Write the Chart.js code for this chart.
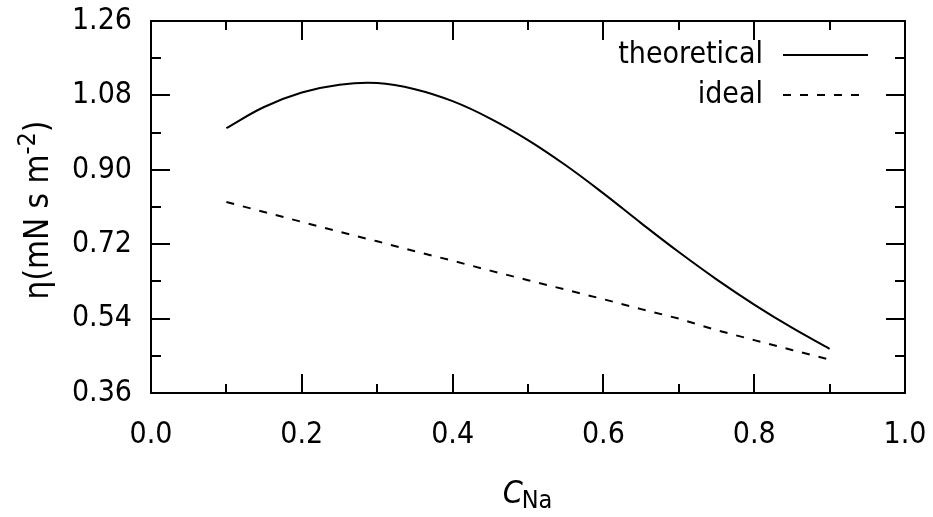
<!DOCTYPE html>
<html>
<head>
<meta charset="utf-8">
<script src="https://cdn.jsdelivr.net/npm/chart.js@4.4.0/dist/chart.umd.min.js"></script>
<style>
  html, body { margin: 0; padding: 0; background: #fff; }
  #wrap { width: 933px; height: 517px; }
</style>
</head>
<body>
<div id="wrap"><canvas id="chart_id"></canvas></div>
<script>
// values
const cNa = [0.1, 0.15, 0.2, 0.25, 0.3, 0.35, 0.4, 0.45, 0.5, 0.55, 0.6, 0.65, 0.7, 0.75, 0.8, 0.85, 0.9];
const etaTheoretical = [1.001, 1.052, 1.087, 1.106, 1.110, 1.095, 1.066, 1.024, 0.972, 0.911, 0.843, 0.771, 0.701, 0.635, 0.574, 0.518, 0.467];
const etaIdeal = [0.822, 0.798, 0.774, 0.750, 0.727, 0.703, 0.680, 0.656, 0.633, 0.610, 0.587, 0.563, 0.540, 0.512, 0.488, 0.464, 0.441];
const seriesLabels = ["theoretical", "ideal"];
const xTicks = [0.0, 0.2, 0.4, 0.6, 0.8, 1.0];
const xMinorTicks = [0.1, 0.3, 0.5, 0.7, 0.9];
const yTicks = [0.36, 0.54, 0.72, 0.90, 1.08, 1.26];
const yMinorTicks = [0.45, 0.63, 0.81, 0.99, 1.17];

const FONT = "'DejaVu Sans Condensed', 'Noto Sans', sans-serif";
const FS = 30;
const DASH = [8, 9];

function toPoints(xs, ys) {
  let pts = [];
  for (let i = 0; i < xs.length; i++) {
    pts.push({ x: xs[i], y: ys[i] });
  }
  return pts;
}

// frame, inward ticks (gnuplot style), legend and axis titles
const gnuplotLook = {
  id: "gnuplotLook",
  afterDraw(chart) {
    const ctx = chart.ctx;
    const area = chart.chartArea;
    const xs = chart.scales.x;
    const ys = chart.scales.y;
    ctx.save();
    ctx.strokeStyle = "#000";
    ctx.fillStyle = "#000";
    ctx.lineWidth = 2;
    ctx.setLineDash([]);
    ctx.strokeRect(area.left, area.top, area.right - area.left, area.bottom - area.top);

    ctx.beginPath();
    const tickX = (v, len) => {
      const px = Math.round(xs.getPixelForValue(v));
      ctx.moveTo(px, area.bottom); ctx.lineTo(px, area.bottom - len);
      ctx.moveTo(px, area.top); ctx.lineTo(px, area.top + len);
    };
    const tickY = (v, len) => {
      const py = Math.round(ys.getPixelForValue(v));
      ctx.moveTo(area.left, py); ctx.lineTo(area.left + len, py);
      ctx.moveTo(area.right, py); ctx.lineTo(area.right - len, py);
    };
    xTicks.forEach(v => tickX(v, 19));
    xMinorTicks.forEach(v => tickX(v, 9));
    yTicks.forEach(v => tickY(v, 19));
    yMinorTicks.forEach(v => tickY(v, 10));
    ctx.stroke();

    // legend
    ctx.font = FS + "px " + FONT;
    ctx.textAlign = "right";
    ctx.textBaseline = "middle";
    const rows = [55, 95];
    chart.data.datasets.forEach((ds, i) => {
      ctx.fillText(ds.label, 763, rows[i]);
      ctx.beginPath();
      ctx.setLineDash(ds.borderDash || []);
      ctx.moveTo(783, rows[i]);
      ctx.lineTo(i == 0 ? 868 : 862, rows[i]);
      ctx.stroke();
    });
    ctx.setLineDash([]);

    // x title: C with subscript Na
    const cx = (area.left + area.right) / 2;
    ctx.textAlign = "left";
    ctx.textBaseline = "alphabetic";
    const fC = "italic 32px " + FONT;
    const fSub = "25px " + FONT;
    ctx.font = fC;
    const wC = ctx.measureText("C").width;
    ctx.font = fSub;
    const wNa = ctx.measureText("Na").width;
    let x0 = cx - (wC + wNa) / 2;
    ctx.font = fC;
    ctx.fillText("C", x0, 503);
    ctx.font = fSub;
    ctx.fillText("Na", x0 + wC - 1, 508);

    // y title: η(mN s m^-2)
    ctx.translate(48, (area.top + area.bottom) / 2 + 3);
    ctx.rotate(-Math.PI / 2);
    const big = "33px " + FONT;
    const small = "25px " + FONT;
    ctx.font = big;
    const w1 = ctx.measureText("η(mN s m").width;
    const w3 = ctx.measureText(")").width;
    ctx.font = small;
    const w2 = ctx.measureText("-2").width;
    let s = -(w1 + w2 + w3) / 2;
    ctx.font = big;
    ctx.fillText("η(mN s m", s, 0);
    ctx.font = small;
    ctx.fillText("-2", s + w1, -13);
    ctx.font = big;
    ctx.fillText(")", s + w1 + w2, 0);
    ctx.restore();
  },
};

const config = {
  type: "line",
  data: {
    datasets: [
      {
        label: seriesLabels[0],
        data: toPoints(cNa, etaTheoretical),
        borderColor: "#000",
        borderWidth: 2,
        pointRadius: 0,
        tension: 0.4,
        fill: false,
      },
      {
        label: seriesLabels[1],
        data: toPoints(cNa, etaIdeal),
        borderColor: "#000",
        borderWidth: 2,
        borderDash: DASH,
        pointRadius: 0,
        tension: 0,
        fill: false,
      },
    ],
  },
  options: {
    responsive: true,
    maintainAspectRatio: false,
    animation: false,
    layout: { padding: { top: 21, right: 28, left: 0, bottom: 0 } },
    plugins: { legend: { display: false }, tooltip: { enabled: false } },
    scales: {
      x: {
        type: "linear",
        min: 0,
        max: 1,
        afterBuildTicks: (scale) => { scale.ticks = xTicks.map(v => ({ value: v })); },
        ticks: {
          color: "#000",
          font: { family: FONT, size: FS },
          padding: 24,
          maxRotation: 0,
          callback: (v) => v.toFixed(1),
        },
        grid: { display: false, drawTicks: false },
        border: { display: false },
        afterFit: (scale) => {
          scale.height = 124;
          scale.paddingLeft = 0;
          scale.paddingRight = 0;
        },
      },
      y: {
        type: "linear",
        min: 0.36,
        max: 1.26,
        afterBuildTicks: (scale) => { scale.ticks = yTicks.map(v => ({ value: v })); },
        ticks: {
          color: "#000",
          font: { family: FONT, size: FS },
          padding: 19,
          callback: (v) => v.toFixed(2),
        },
        grid: { display: false, drawTicks: false },
        border: { display: false },
        afterFit: (scale) => {
          scale.width = 151;
          scale.paddingTop = 0;
          scale.paddingBottom = 0;
        },
      },
    },
  },
  plugins: [gnuplotLook],
};

new Chart(document.getElementById("chart_id"), config);
</script>
</body>
</html>
